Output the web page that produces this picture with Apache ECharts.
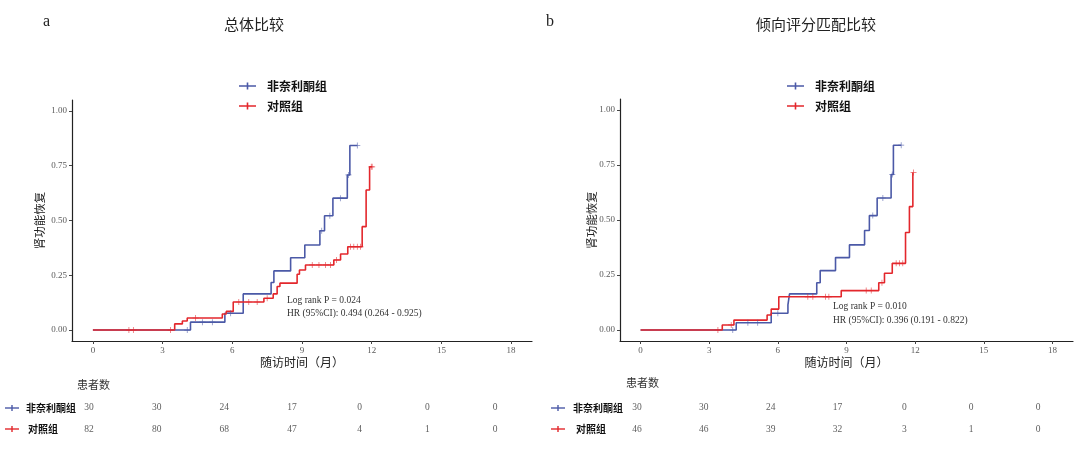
<!DOCTYPE html>
<html>
<head>
<meta charset="utf-8">
<script src="https://cdn.jsdelivr.net/npm/echarts@6/dist/echarts.min.js"></script>
<style>html,body{margin:0;padding:0;background:#fff}#c{width:1080px;height:450px}</style>
</head>
<body>
<div id="c"></div>
<script>
// ---------- data ----------
var groupNames = ['非奈利酮组', '对照组'];
var xTicks = [0, 3, 6, 9, 12, 15, 18];
var yTicks = [0, 0.25, 0.5, 0.75, 1];

// Panel a: 总体比较
var aBlueTimes = [0, 4.2, 5.68, 6.47, 7.67, 7.79, 8.51, 9.12, 9.77, 9.97, 10.33, 10.95, 11.06, 11.38];
var aBlueVals  = [0, 0.036, 0.077, 0.165, 0.217, 0.27, 0.33, 0.388, 0.453, 0.522, 0.602, 0.708, 0.842, 0.842];
var aBlueCens  = [4.06, 4.71, 5.14, 5.93, 9.85, 10.2, 10.65, 11.0, 11.38];
var aRedTimes  = [0, 3.52, 3.85, 4.06, 5.57, 5.74, 6.04, 7.36, 7.76, 7.93, 8.05, 8.79, 8.89, 9.15, 10.37, 10.66, 10.97, 11.59, 11.76, 11.91, 12.02];
var aRedVals   = [0, 0.028, 0.041, 0.055, 0.073, 0.085, 0.128, 0.145, 0.165, 0.199, 0.214, 0.255, 0.274, 0.297, 0.32, 0.347, 0.38, 0.472, 0.639, 0.745, 0.745];
var aRedCens   = [1.55, 1.74, 3.34, 4.42, 6.28, 6.71, 7.07, 7.5, 9.44, 9.73, 10.01, 10.23, 10.48, 11.09, 11.23, 11.38, 11.52, 11.98, 12.02];
var aRiskBlue  = [30, 30, 24, 17, 0, 0, 0];
var aRiskRed   = [82, 80, 68, 47, 4, 1, 0];

// Panel b: 倾向评分匹配比较
var bBlueTimes = [0, 4.18, 5.71, 6.44, 6.51, 7.70, 7.85, 8.52, 9.13, 9.79, 10.0, 10.34, 10.95, 11.05, 11.39];
var bBlueVals  = [0, 0.033, 0.076, 0.114, 0.164, 0.215, 0.27, 0.329, 0.387, 0.452, 0.52, 0.60, 0.707, 0.84, 0.84];
var bBlueCens  = [4.03, 4.69, 5.12, 6.0, 10.15, 10.59, 11.0, 11.39];
var bRedTimes  = [0, 3.57, 4.08, 5.53, 5.71, 6.04, 8.77, 10.41, 10.66, 11.0, 11.58, 11.75, 11.90, 11.93];
var bRedVals   = [0, 0.023, 0.045, 0.068, 0.095, 0.151, 0.179, 0.215, 0.258, 0.303, 0.443, 0.561, 0.716, 0.716];
var bRedCens   = [3.38, 3.96, 7.31, 7.53, 8.08, 8.23, 9.86, 10.08, 10.55, 11.17, 11.31, 11.46, 11.93];
var bRiskBlue  = [30, 30, 24, 17, 0, 0, 0];
var bRiskRed   = [46, 46, 39, 32, 3, 1, 0];

// ---------- helpers ----------
var BLUE = '#4b59a7', RED = '#e3272c';
var SERIF = '"Liberation Serif","DejaVu Serif",serif';
var CJK = '"Noto Sans CJK SC","Noto Sans",sans-serif';
function pairs(t, v) { return t.map(function (x, i) { return [x, v[i]]; }); }
function stepAt(t, v, x) { var y = v[0]; for (var i = 0; i < t.length; i++) { if (t[i] <= x + 1e-9) y = v[i]; } return y; }
function cens(t, v, c) { return c.map(function (x) { return [x, stepAt(t, v, x)]; }); }
function riskData(vals, row) { return xTicks.map(function (x, i) { return [x, row, vals[i]]; }); }
var CROSS = 'path://M-0.12,-1h0.24v0.88h0.88v0.24h-0.88v0.88h-0.24v-0.88h-0.88v-0.24h0.88z';
var LEGICON = 'path://M0,3.2h17v1.6H0z M7.7,0.5h1.6v7h-1.6z';

function plotX(gi) {
  return {
    type: 'value', gridIndex: gi, min: -0.9, max: 18.9,
    name: '随访时间（月）', nameLocation: 'middle', nameGap: 15, nameMoveOverlap: false,
    nameTextStyle: { fontFamily: CJK, fontSize: 12, color: '#222' },
    axisLine: { show: true, onZero: false, lineStyle: { color: '#222', width: 1.2 } },
    axisTick: { show: true, customValues: xTicks, length: 3, lineStyle: { color: '#444' } },
    axisLabel: { customValues: xTicks, fontFamily: SERIF, fontSize: 9, color: '#5a5a5a', margin: 5 },
    splitLine: { show: false }
  };
}
function plotY(gi, gap) {
  return {
    type: 'value', gridIndex: gi, min: -0.05, max: 1.05,
    name: '肾功能恢复', nameLocation: 'middle', nameGap: gap, nameRotate: 90, nameMoveOverlap: false,
    nameTextStyle: { fontFamily: CJK, fontSize: 11.5, color: '#222' },
    axisLine: { show: true, onZero: false, lineStyle: { color: '#222', width: 1.2 } },
    axisTick: { show: true, customValues: yTicks, length: 3, lineStyle: { color: '#444' } },
    axisLabel: { customValues: yTicks, fontFamily: SERIF, fontSize: 9, color: '#5a5a5a', margin: 5,
      formatter: function (v) { return v.toFixed(2); } },
    splitLine: { show: false }
  };
}
function tableX(gi) { return { type: 'value', gridIndex: gi, min: 0, max: 18, show: false }; }
function tableY(gi) { return { type: 'category', gridIndex: gi, data: ['对照组', '非奈利酮组'], show: false }; }

function kmLine(name, data, color, xi) {
  return { type: 'line', name: name, xAxisIndex: xi, yAxisIndex: xi, data: data, step: 'end',
    symbol: 'none', lineStyle: { color: color, width: 1.6 }, itemStyle: { color: color }, silent: true, z: 3 };
}
function kmCens(name, data, color, xi) {
  return { type: 'scatter', name: name, xAxisIndex: xi, yAxisIndex: xi, data: data, symbol: CROSS, symbolSize: 6,
    itemStyle: { color: color, opacity: 0.75 }, silent: true, z: 4 };
}
function riskSeries(data, xi) {
  return { type: 'scatter', xAxisIndex: xi, yAxisIndex: xi, data: data, symbolSize: 1,
    itemStyle: { color: 'rgba(0,0,0,0)' }, silent: true,
    label: { show: true, position: 'inside', formatter: function (p) { return p.value[2]; },
      fontFamily: SERIF, fontSize: 9.5, color: '#333' } };
}
function legendAt(left) {
  return { orient: 'vertical', left: left, top: 74, itemWidth: 17, itemHeight: 8, itemGap: 6,
    selectedMode: false,
    textStyle: { fontFamily: CJK, fontSize: 12, fontWeight: 'bold', color: '#111', lineHeight: 14, padding: [0, 0, 0, 6] },
    data: [{ name: groupNames[0], icon: LEGICON, itemStyle: { color: BLUE } },
           { name: groupNames[1], icon: LEGICON, itemStyle: { color: RED } }] };
}
function rowHeader(x0, textX, y, text) {
  return [
    { type: 'rect', shape: { x: x0, y: y - 0.7, width: 14, height: 1.4 }, style: { fill: text === groupNames[0] ? BLUE : RED } },
    { type: 'rect', shape: { x: x0 + 6.3, y: y - 3, width: 1.4, height: 6 }, style: { fill: text === groupNames[0] ? BLUE : RED } },
    { type: 'text', x: textX, y: y, style: { text: text, fontFamily: CJK, fontSize: 10, fontWeight: 'bold', fill: '#111', verticalAlign: 'middle' } }
  ];
}
function annot(x, y, lines) {
  return lines.map(function (s, i) {
    return { type: 'text', x: x, y: y + i * 13.5, style: { text: s, fontFamily: SERIF, fontSize: 9.5, fill: '#333', verticalAlign: 'middle' } };
  });
}

var chart = echarts.init(document.getElementById('c'), null, { renderer: 'canvas' });
var graphics = []
  .concat(rowHeader(5, 26, 408, groupNames[0]))
  .concat(rowHeader(5, 28, 429, groupNames[1]))
  .concat(rowHeader(551, 573, 408, groupNames[0]))
  .concat(rowHeader(551, 576, 429, groupNames[1]))
  .concat(annot(287, 300, ['Log rank P = 0.024', 'HR (95%CI): 0.494 (0.264 - 0.925)']))
  .concat(annot(833, 306.5, ['Log rank P = 0.010', 'HR (95%CI): 0.396 (0.191 - 0.822)']))
  .concat([
    { type: 'text', x: 77, y: 385, style: { text: '患者数', fontFamily: CJK, fontSize: 11, fill: '#333', verticalAlign: 'middle' } },
    { type: 'text', x: 626, y: 383, style: { text: '患者数', fontFamily: CJK, fontSize: 11, fill: '#333', verticalAlign: 'middle' } }
  ]);

chart.setOption({
  animation: false,
  backgroundColor: '#fff',
  title: [
    { text: 'a', left: 38, top: 9, textStyle: { fontFamily: SERIF, fontSize: 16, fontWeight: 'normal', color: '#222' } },
    { text: '总体比较', left: 219, top: 12, textStyle: { fontFamily: CJK, fontSize: 15, fontWeight: 'normal', color: '#222' } },
    { text: 'b', left: 541, top: 9, textStyle: { fontFamily: SERIF, fontSize: 16, fontWeight: 'normal', color: '#222' } },
    { text: '倾向评分匹配比较', left: 751, top: 12, textStyle: { fontFamily: CJK, fontSize: 15, fontWeight: 'normal', color: '#222' } }
  ],
  legend: [legendAt(234), legendAt(782)],
  grid: [
    { left: 72, top: 100, width: 460, height: 241 },
    { left: 620, top: 99, width: 453, height: 242 },
    { left: 89, top: 397, width: 406, height: 43 },
    { left: 637, top: 397, width: 401, height: 43 }
  ],
  xAxis: [plotX(0), plotX(1), tableX(2), tableX(3)],
  yAxis: [plotY(0, 27), plotY(1, 23), tableY(2), tableY(3)],
  series: [
    kmLine(groupNames[0], pairs(aBlueTimes, aBlueVals), BLUE, 0),
    kmLine(groupNames[1], pairs(aRedTimes, aRedVals), RED, 0),
    kmCens(groupNames[0], cens(aBlueTimes, aBlueVals, aBlueCens), BLUE, 0),
    kmCens(groupNames[1], cens(aRedTimes, aRedVals, aRedCens), RED, 0),
    kmLine(groupNames[0], pairs(bBlueTimes, bBlueVals), BLUE, 1),
    kmLine(groupNames[1], pairs(bRedTimes, bRedVals), RED, 1),
    kmCens(groupNames[0], cens(bBlueTimes, bBlueVals, bBlueCens), BLUE, 1),
    kmCens(groupNames[1], cens(bRedTimes, bRedVals, bRedCens), RED, 1),
    riskSeries(riskData(aRiskBlue, '非奈利酮组').concat(riskData(aRiskRed, '对照组')), 2),
    riskSeries(riskData(bRiskBlue, '非奈利酮组').concat(riskData(bRiskRed, '对照组')), 3)
  ],
  graphic: graphics
});
</script>
</body>
</html>
